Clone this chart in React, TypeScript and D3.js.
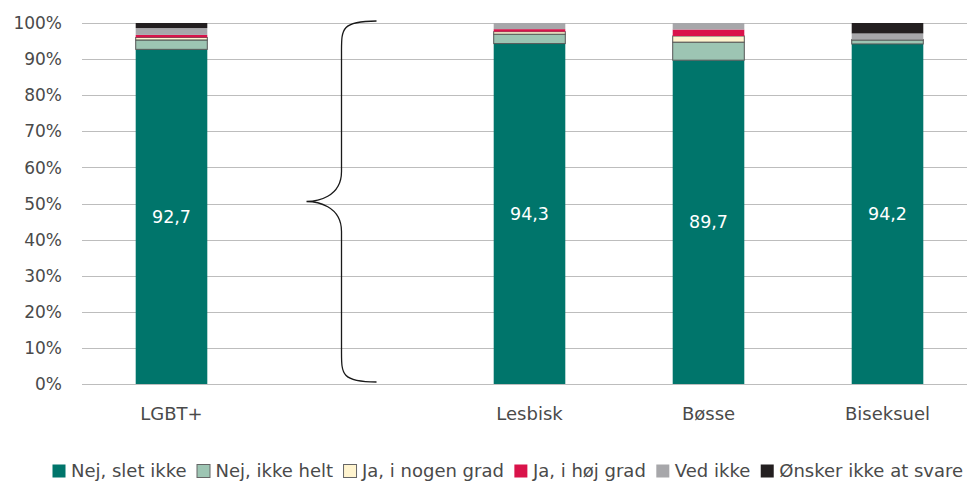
import React, { useEffect, useRef } from "react";
import * as d3 from "d3";

const categories = ["LGBT+", "", "Lesbisk", "Bøsse", "Biseksuel"];
const seriesNames = [
  "Nej, slet ikke",
  "Nej, ikke helt",
  "Ja, i nogen grad",
  "Ja, i høj grad",
  "Ved ikke",
  "Ønsker ikke at svare",
];
const nejSletIkke = [92.7, 0, 94.3, 89.7, 94.2];
const nejIkkeHelt = [2.6, 0, 2.6, 5.0, 1.1];
const jaINogenGrad = [0.7, 0, 0.7, 1.7, 0.1];
const jaIHoejGrad = [0.7, 0, 0.7, 1.8, 0.0];
const vedIkke = [1.9, 0, 1.7, 1.8, 1.7];
const oenskerIkke = [1.4, 0, 0.0, 0.0, 2.9];
const yTicks = [0, 10, 20, 30, 40, 50, 60, 70, 80, 90, 100];

const colors = ["#00756b", "#9dc5b3", "#fff4cf", "#d9134a", "#a7a7aa", "#231f20"];
const outlined = [false, true, true, false, false, false];

const W = 967;
const H = 482;
const FONT = "'DejaVu Sans', 'Open Sans', sans-serif";
const TEXT = "#4a4a4a";

export default function App() {
  const ref = useRef<SVGSVGElement>(null);

  useEffect(() => {
    const svg = d3.select(ref.current);
    svg.selectAll("*").remove();

    const series = [nejSletIkke, nejIkkeHelt, jaINogenGrad, jaIHoejGrad, vedIkke, oenskerIkke];
    const rows = categories.map((c, i) => {
      const r: any = { cat: c };
      seriesNames.forEach((s, k) => (r[s] = series[k][i]));
      return r;
    });
    const stacked = d3.stack<any>().keys(seriesNames)(rows);

    const x = d3
      .scaleBand<string>()
      .domain(categories)
      .range([82, 977])
      .paddingInner(0.6)
      .paddingOuter(0.3);
    const y = d3.scaleLinear().domain([0, 100]).range([384, 23]);

    // gridlines and y tick labels
    const grid = svg.append("g");
    grid
      .selectAll("line")
      .data(yTicks)
      .join("line")
      .attr("x1", 82)
      .attr("x2", W)
      .attr("y1", (d) => Math.round(y(d)) + 0.5)
      .attr("y2", (d) => Math.round(y(d)) + 0.5)
      .attr("stroke", "#bdbdbd")
      .attr("stroke-width", 1);
    grid
      .selectAll("text")
      .data(yTicks)
      .join("text")
      .attr("x", 62)
      .attr("y", (d) => y(d))
      .attr("dy", "0.36em")
      .attr("text-anchor", "end")
      .attr("font-family", FONT)
      .attr("font-size", 17)
      .attr("fill", TEXT)
      .text((d) => `${d}%`);

    // stacked bars
    const bars = svg.append("g");
    stacked.forEach((layer, k) => {
      bars
        .append("g")
        .selectAll("rect")
        .data(layer.filter((d: any) => d.data.cat !== "" && d[1] - d[0] > 0))
        .join("rect")
        .attr("x", (d: any) => x(d.data.cat)!)
        .attr("width", x.bandwidth())
        .attr("y", (d: any) => y(d[1]))
        .attr("height", (d: any) => y(d[0]) - y(d[1]))
        .attr("fill", colors[k])
        .attr("stroke", outlined[k] ? "#555555" : "none")
        .attr("stroke-width", outlined[k] ? 1 : 0);
    });

    // value labels on the main segment
    svg
      .append("g")
      .selectAll("text")
      .data(stacked[0].filter((d: any) => d.data.cat !== ""))
      .join("text")
      .attr("x", (d: any) => x(d.data.cat)! + x.bandwidth() / 2)
      .attr("y", (d: any) => y((d[0] + d[1]) / 2))
      .attr("dy", "0.36em")
      .attr("text-anchor", "middle")
      .attr("font-family", FONT)
      .attr("font-size", 17.5)
      .attr("fill", "#ffffff")
      .text((d: any) => d3.format(".1f")(d[1] - d[0]).replace(".", ","));

    // category labels
    svg
      .append("g")
      .selectAll("text")
      .data(categories.filter((c) => c !== ""))
      .join("text")
      .attr("x", (c) => x(c)! + x.bandwidth() / 2)
      .attr("y", 420)
      .attr("text-anchor", "middle")
      .attr("font-family", FONT)
      .attr("font-size", 18)
      .attr("fill", TEXT)
      .text((c) => c);

    // curly brace grouping the subgroups
    const bx = x("")! + x.bandwidth() / 2;
    const top = y(100) - 2;
    const bottom = y(0) - 2;
    const mid = (top + bottom) / 2;
    const left = bx - 44;
    const stem = bx - 9;
    const right = bx + 26;
    const r = 30;
    const path = d3.path();
    path.moveTo(right, top);
    path.bezierCurveTo(stem, top, stem, top + 8, stem, top + r);
    path.lineTo(stem, mid - r);
    path.bezierCurveTo(stem, mid - 4, left + 10, mid, left, mid);
    path.bezierCurveTo(left + 10, mid, stem, mid + 4, stem, mid + r);
    path.lineTo(stem, bottom - r);
    path.bezierCurveTo(stem, bottom - 8, stem, bottom, right, bottom);
    svg
      .append("path")
      .attr("d", path.toString())
      .attr("fill", "none")
      .attr("stroke", "#1a1a1a")
      .attr("stroke-width", 1.3);

    // legend
    const legend = svg.append("g").attr("transform", "translate(0,471)");
    let cx = 52;
    seriesNames.forEach((name, k) => {
      const g = legend.append("g").attr("transform", `translate(${cx},0)`);
      g.append("rect")
        .attr("x", 0.5)
        .attr("y", -6.5)
        .attr("width", 13)
        .attr("height", 13)
        .attr("fill", colors[k])
        .attr("stroke", outlined[k] ? "#666" : "none");
      const t = g
        .append("text")
        .attr("x", 19)
        .attr("y", 0)
        .attr("dy", "0.36em")
        .attr("font-family", FONT)
        .attr("font-size", 18)
        .attr("fill", TEXT)
        .text(name);
      const len = (t.node() as SVGTextElement).getComputedTextLength();
      cx += 19 + len + 10;
    });
  }, []);

  return (
    <div style={{ position: "absolute", left: 0, top: 0 }}>
      <svg ref={ref} width={W} height={H} style={{ display: "block", background: "#fff" }} />
    </div>
  );
}
